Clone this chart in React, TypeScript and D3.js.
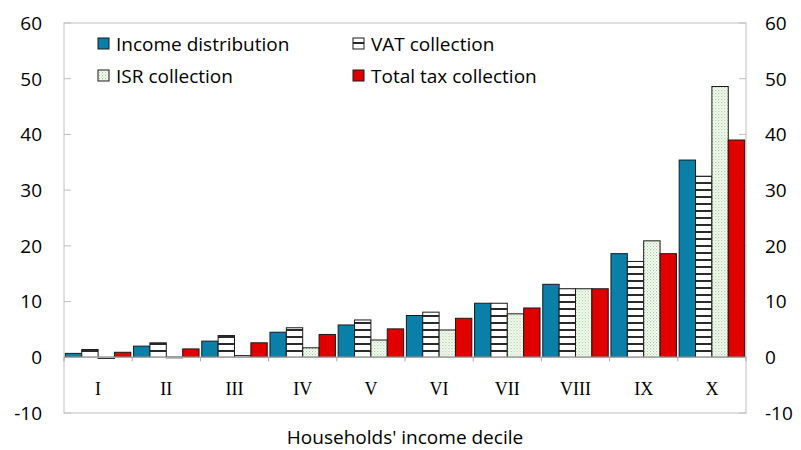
import React from "react";
import * as d3 from "d3";

const categories = ["I", "II", "III", "IV", "V", "VI", "VII", "VIII", "IX", "X"];
const incomeDistribution = [0.7, 2.0, 2.9, 4.5, 5.8, 7.5, 9.7, 13.1, 18.6, 35.4];
const vatCollection = [1.4, 2.6, 3.9, 5.3, 6.7, 8.1, 9.7, 12.3, 17.2, 32.5];
const isrCollection = [-0.2, 0.05, 0.3, 1.7, 3.1, 4.9, 7.8, 12.3, 20.9, 48.6];
const totalTaxCollection = [0.9, 1.5, 2.6, 4.1, 5.1, 7.0, 8.85, 12.3, 18.6, 39.0];
const yTicks = [-10, 0, 10, 20, 30, 40, 50, 60];
const seriesNames = ["Income distribution", "VAT collection", "ISR collection", "Total tax collection"];
const xTitle = "Households' income decile";

const W = 801, H = 450;
const left = 64, right = 746, top = 23, bottom = 413;
const FONT = "'Open Sans', 'Noto Sans', sans-serif";

const fills = ["#0a7fa8", "url(#vatPat)", "url(#isrPat)", "#e00000"];

export default function App() {
  const x = d3.scaleBand<string>().domain(categories).range([left, right]).paddingInner(0.04).paddingOuter(0.02);
  const inner = d3.scaleBand<number>().domain([0, 1, 2, 3]).range([0, x.bandwidth()]).padding(0);
  const y = d3.scaleLinear().domain([-10, 60]).range([bottom, top]);
  const series = [incomeDistribution, vatCollection, isrCollection, totalTaxCollection];
  const groupStep = (right - left) / categories.length;

  return (
    <svg width={W} height={H} style={{ position: "absolute", left: 0, top: 0 }}>
      <defs>
        <pattern id="vatPat" patternUnits="userSpaceOnUse" width={8} height={7}>
          <rect width={8} height={7} fill="#fff" />
          <rect y={0} width={8} height={2} fill="#2a2a2a" />
        </pattern>
        <pattern id="isrPat" patternUnits="userSpaceOnUse" width={3} height={3}>
          <rect width={3} height={3} fill="#fff" />
          <rect x={0} y={0} width={1.2} height={1.2} fill="#9ccf8c" />
          <rect x={1.5} y={1.5} width={1.2} height={1.2} fill="#b7dca9" />
        </pattern>
      </defs>
      <rect x={0} y={0} width={W} height={H} fill="#fff" />
      {/* frame */}
      <rect x={left} y={top} width={right - left} height={bottom - top} fill="none" stroke="#bfbfbf" strokeWidth={1} />
      {/* y ticks inward */}
      {yTicks.map((t) => (
        <g key={"t" + t}>
          <line x1={left} x2={left + 7} y1={y(t)} y2={y(t)} stroke="#bfbfbf" />
          <line x1={right - 7} x2={right} y1={y(t)} y2={y(t)} stroke="#bfbfbf" />
          <text x={42} y={y(t)} dy="0.36em" textAnchor="end" fontFamily={FONT} fontSize={19} fill="#000">{t}</text>
          <text x={765} y={y(t)} dy="0.36em" textAnchor="start" fontFamily={FONT} fontSize={19} fill="#000">{t}</text>
        </g>
      ))}
      {/* bars */}
      {categories.map((c, ci) => (
        <g key={c} transform={`translate(${x(c)},0)`}>
          {series.map((s, si) => {
            const v = s[ci];
            const y0 = y(Math.max(0, v));
            const h = Math.max(Math.abs(y(v) - y(0)), 0.8);
            return (
              <rect key={si} x={inner(si)} y={y0} width={inner.bandwidth()} height={h}
                fill={fills[si]} stroke="#1a1a1a" strokeWidth={1} />
            );
          })}
        </g>
      ))}
      {/* zero axis */}
      <line x1={left} x2={right} y1={y(0)} y2={y(0)} stroke="#a6a6a6" strokeWidth={1.5} />
      {d3.range(categories.length + 1).map((i) => (
        <line key={"xt" + i} x1={left + i * groupStep} x2={left + i * groupStep} y1={y(0)} y2={y(0) + 4} stroke="#a6a6a6" />
      ))}
      {/* category labels */}
      {categories.map((c) => (
        <text key={"l" + c} x={(x(c) as number) + x.bandwidth() / 2} y={389} dy="0.36em" textAnchor="middle"
          fontFamily="'Liberation Serif', 'DejaVu Serif', serif" fontSize={18} fill="#000">{c}</text>
      ))}
      <text x={(left + right) / 2 + 0} y={444} textAnchor="middle" fontFamily={FONT} fontSize={19} fill="#000">{xTitle}</text>
      {/* legend */}
      {seriesNames.map((n, i) => {
        const lx = i % 2 === 0 ? 98 : 353;
        const ly = i < 2 ? 44 : 76;
        return (
          <g key={n}>
            <rect x={lx} y={ly - 6} width={11} height={11} fill={fills[i]} stroke="#1a1a1a" strokeWidth={1} />
            <text x={lx + 18} y={ly} dy="0.36em" fontFamily={FONT} fontSize={19} fill="#000">{n}</text>
          </g>
        );
      })}
    </svg>
  );
}
